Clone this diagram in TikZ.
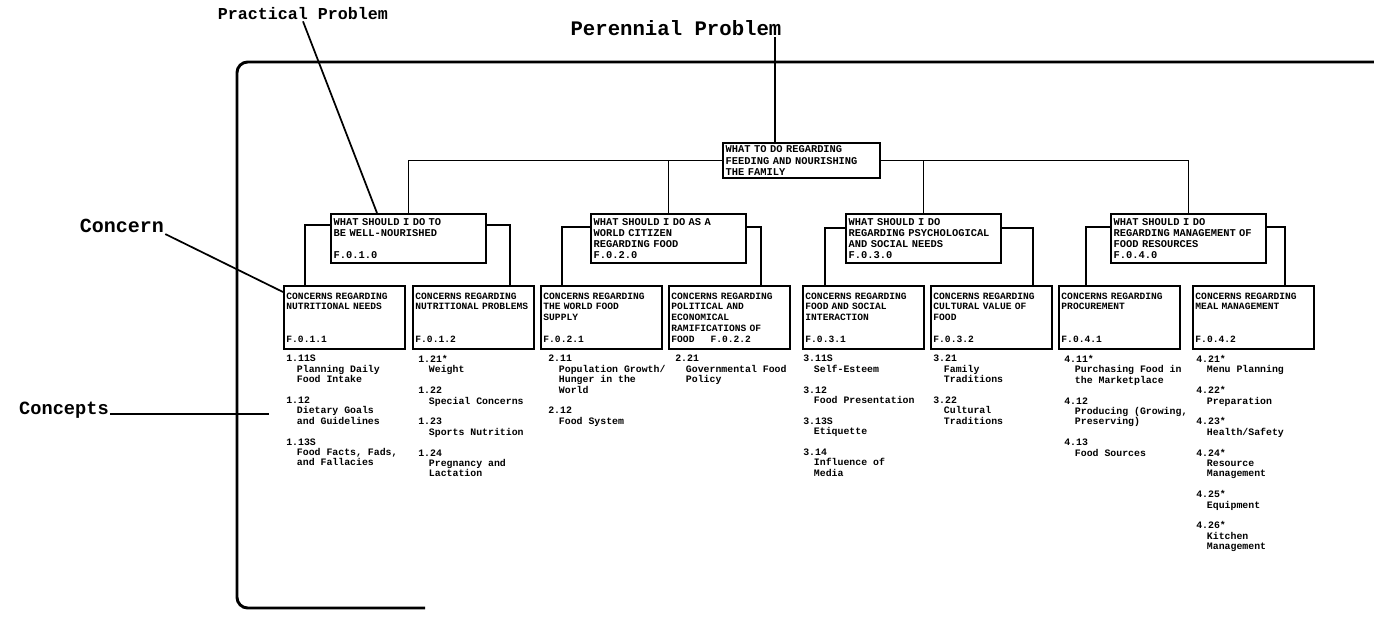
\documentclass[tikz,border=0pt]{standalone}
\usepackage{fontspec}
\setmonofont{Liberation Mono}
\usetikzlibrary{calc}

\newcommand\ind{\hspace*{8pt}}

\tikzset{
	tbox/.style={draw, line width=1.6pt, anchor=north west, align=left, inner xsep=2pt, inner ysep=1pt,
		font=\ttfamily\bfseries\fontsize{7.8}{8.3}\selectfont},
	topbox/.style={tbox, text width=114pt, minimum height=26.25pt},
	ppbox/.style={tbox, text width=112pt, minimum height=36.75pt},
	cbox/.style={tbox, inner xsep=1.8pt, text width=87pt, minimum height=47.25pt,
		font=\ttfamily\bfseries\fontsize{7.2}{8.1}\selectfont},
	concept/.style={anchor=north west, align=left, inner sep=0pt,
		font=\ttfamily\bfseries\fontsize{7.4}{7.8}\selectfont},
	lbl/.style={inner sep=0.75pt, font=\ttfamily\bfseries},
	conn/.style={line width=1.3pt},
}

\begin{document}
\begin{tikzpicture}[x=0.75pt,y=0.75pt,yscale=-1,xscale=1]
	\useasboundingbox (0,0) rectangle (1374,635);
	
	%Shape: Frame
	\draw[line width=2.2pt, rounded corners=8] (1374,62) -- (237,62) -- (237,608) -- (425,608);
	
	%Shape: Perennial problem
	\node[topbox] (top) at (722,142) {WHAT TO DO REGARDING\\FEEDING AND NOURISHING\\THE FAMILY};
	
	%Shape: Practical problems
	\node[ppbox] (pp1) at (330,213) {WHAT SHOULD I DO TO\\BE WELL-NOURISHED\\\mbox{}\\F.0.1.0};
	\node[ppbox] (pp2) at (590,213) {WHAT SHOULD I DO AS A\\WORLD CITIZEN\\REGARDING FOOD\\F.0.2.0};
	\node[ppbox] (pp3) at (845,213) {WHAT SHOULD I DO\\REGARDING PSYCHOLOGICAL\\AND SOCIAL NEEDS\\F.0.3.0};
	\node[ppbox] (pp4) at (1110,213) {WHAT SHOULD I DO\\REGARDING MANAGEMENT OF\\FOOD RESOURCES\\F.0.4.0};
	
	%Shape: Concerns
	\node[cbox] (cb1) at (283,285) {CONCERNS REGARDING\\NUTRITIONAL NEEDS\\\mbox{}\\\mbox{}\\F.0.1.1};
	\node[cbox] (cb2) at (412,285) {CONCERNS REGARDING\\NUTRITIONAL PROBLEMS\\\mbox{}\\\mbox{}\\F.0.1.2};
	\node[cbox] (cb3) at (540,285) {CONCERNS REGARDING\\THE WORLD FOOD\\SUPPLY\\\mbox{}\\F.0.2.1};
	\node[cbox] (cb4) at (668,285) {CONCERNS REGARDING\\POLITICAL AND\\ECONOMICAL\\RAMIFICATIONS OF\\FOOD~~~~~F.0.2.2};
	\node[cbox] (cb5) at (802,285) {CONCERNS REGARDING\\FOOD AND SOCIAL\\INTERACTION\\\mbox{}\\F.0.3.1};
	\node[cbox] (cb6) at (930,285) {CONCERNS REGARDING\\CULTURAL VALUE OF\\FOOD\\\mbox{}\\F.0.3.2};
	\node[cbox] (cb7) at (1058,285) {CONCERNS REGARDING\\PROCUREMENT\\\mbox{}\\\mbox{}\\F.0.4.1};
	\node[cbox] (cb8) at (1192,285) {CONCERNS REGARDING\\MEAL MANAGEMENT\\\mbox{}\\\mbox{}\\F.0.4.2};
	
	% Text Node: concepts
	\node[concept] (cc1) at (286,355) {1.11S\\\ind Planning Daily\\\ind Food Intake\\[7.8pt]
		1.12\\\ind Dietary Goals\\\ind and Guidelines\\[7.8pt]
		1.13S\\\ind Food Facts, Fads,\\\ind and Fallacies};
	\node[concept] (cc2) at (418,355) {1.21*\\\ind Weight\\[7.8pt]
		1.22\\\ind Special Concerns\\[7.8pt]
		1.23\\\ind Sports Nutrition\\[7.8pt]
		1.24\\\ind Pregnancy and\\\ind Lactation};
	\node[concept] (cc3) at (548,355) {2.11\\\ind Population Growth/\\\ind Hunger in the\\\ind World\\[7.8pt]
		2.12\\\ind Food System};
	\node[concept] (cc4) at (675,355) {2.21\\\ind Governmental Food\\\ind Policy};
	\node[concept] (cc5) at (803,355) {3.11S\\\ind Self-Esteem\\[7.8pt]
		3.12\\\ind Food Presentation\\[7.8pt]
		3.13S\\\ind Etiquette\\[7.8pt]
		3.14\\\ind Influence of\\\ind Media};
	\node[concept] (cc6) at (933,355) {3.21\\\ind Family\\\ind Traditions\\[7.8pt]
		3.22\\\ind Cultural\\\ind Traditions};
	\node[concept] (cc7) at (1064,355) {4.11*\\\ind Purchasing Food in\\\ind the Marketplace\\[7.8pt]
		4.12\\\ind Producing (Growing,\\\ind Preserving)\\[7.8pt]
		4.13\\\ind Food Sources};
	\node[concept] (cc8) at (1196,355) {4.21*\\\ind Menu Planning\\[7.8pt]
		4.22*\\\ind Preparation\\[7.8pt]
		4.23*\\\ind Health/Safety\\[7.8pt]
		4.24*\\\ind Resource\\\ind Management\\[7.8pt]
		4.25*\\\ind Equipment\\[7.8pt]
		4.26*\\\ind Kitchen\\\ind Management};
	
	% Text Node: side labels
	\node[lbl, font=\ttfamily\bfseries\fontsize{12.5}{14}\selectfont] (lblPractical) at (303,14) {Practical Problem};
	\node[lbl, font=\ttfamily\bfseries\fontsize{15.5}{17}\selectfont] (lblPerennial) at (676,28) {Perennial Problem};
	\node[lbl, font=\ttfamily\bfseries\fontsize{15}{17}\selectfont] (lblConcern) at (122,226) {Concern};
	\node[lbl, font=\ttfamily\bfseries\fontsize{14}{16}\selectfont] (lblConcepts) at (64,410) {Concepts};
	
	%Shape: Connectors
	\draw[conn] (pp1.north) |- (top.west);
	\draw[conn] (pp2.north) |- (top.west);
	\draw[conn] (top.east) -| (pp3.north);
	\draw[conn] (top.east) -| (pp4.north);
	
	\draw[conn] ($(pp1.north west)+(0,12)$) -| ($(cb1.north west)+(22,0)$);
	\draw[conn] ($(pp1.north east)+(0,12)$) -| ($(cb2.north east)+(-25,0)$);
	\draw[conn] ($(pp2.north west)+(0,14)$) -| ($(cb3.north west)+(22,0)$);
	\draw[conn] ($(pp2.north east)+(0,14)$) -| ($(cb4.north east)+(-30,0)$);
	\draw[conn] ($(pp3.north west)+(0,15)$) -| ($(cb5.north west)+(23,0)$);
	\draw[conn] ($(pp3.north east)+(0,15)$) -| ($(cb6.north east)+(-20,0)$);
	\draw[conn] ($(pp4.north west)+(0,14)$) -| ($(cb7.north west)+(28,0)$);
	\draw[conn] ($(pp4.north east)+(0,14)$) -| ($(cb8.north east)+(-30,0)$);
	
	%Shape: Label pointers
	\coordinate (perFoot) at ($(top.north west)+(53,0)$);
	\draw[conn] (perFoot |- lblPerennial.south) -- (perFoot);
	\draw[conn] (lblPractical.south) -- ($(pp1.north west)+(47,0)$);
	\draw[conn] (lblConcern.south east) -- ($(cb1.north west)+(0,7)$);
	\draw[conn, shorten >=12.75pt] (lblConcepts.base east) -- (lblConcepts.base east -| cc1.west);
	
\end{tikzpicture}
\end{document}
